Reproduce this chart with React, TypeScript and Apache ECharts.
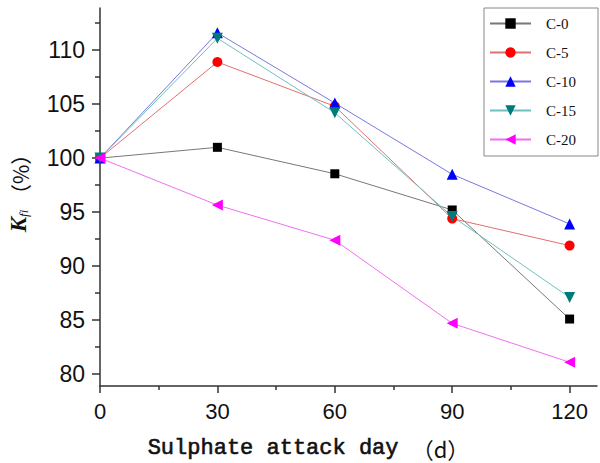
import React, { useEffect, useRef } from "react";
import * as echarts from "echarts";

const days = [0, 30, 60, 90, 120];
const c0 = [100, 101.0, 98.55, 95.2, 85.1];
const c5 = [100, 108.9, 104.8, 94.4, 91.9];
const c10 = [100, 111.6, 105.1, 98.5, 93.9];
const c15 = [100, 111.1, 104.2, 94.6, 87.1];
const c20 = [100, 95.65, 92.4, 84.7, 81.1];
const xMajor = [0, 30, 60, 90, 120];
const xMinor = [15, 45, 75, 105];
const yMajor = [80, 85, 90, 95, 100, 105, 110];
const yMinor = [82.5, 87.5, 92.5, 97.5, 102.5, 107.5, 112.5];
const names = ["C-0", "C-5", "C-10", "C-15", "C-20"];

const pairs = (ys: number[]) => days.map((d, i) => [d, ys[i]]);

export default function App() {
  const ref = useRef<HTMLDivElement>(null);
  useEffect(() => {
    const chart = echarts.init(ref.current!, null, { renderer: "svg" });
    const axisLineStyle = { color: "#333", width: 1.5 };
    const mk = (
      name: string,
      data: number[],
      symbol: string,
      size: number,
      rot: number,
      color: string,
      lineColor: string
    ) => ({
      name,
      type: "line",
      data: pairs(data),
      symbol,
      symbolSize: size,
      symbolRotate: rot,
      itemStyle: { color },
      lineStyle: { color: lineColor, width: 1 },
      xAxisIndex: 0,
      yAxisIndex: 0,
    });
    chart.setOption({
      animation: false,
      backgroundColor: "#fff",
      grid: { left: 100, right: 3, top: 8, bottom: 77, containLabel: false, outerBoundsMode: "none" },
      legend: {
        orient: "vertical",
        left: 484,
        top: 8,
        padding: [8, 22, 9, 5],
        itemWidth: 41,
        itemHeight: 13,
        itemGap: 14,
        borderColor: "#888",
        borderWidth: 1,
        textStyle: { fontFamily: "Liberation Serif", fontSize: 15, color: "#111", padding: [0, 0, 0, 10] },
        data: names,
      },
      xAxis: [
        {
          type: "value",
          min: 0,
          max: 127,
          axisLine: { show: true, lineStyle: axisLineStyle },
          axisTick: { show: true, length: 7, lineStyle: axisLineStyle, customValues: xMajor },
          axisLabel: {
            customValues: xMajor,
            fontFamily: "Liberation Sans",
            fontSize: 22,
            color: "#111",
            margin: 14,
          },
          splitLine: { show: false },
          name: "{a|Sulphate attack day }{b|（d）}",
          nameLocation: "middle",
          nameGap: 51,
          nameTextStyle: {
            padding: [0, 80, 0, 0],
            rich: {
              a: { fontFamily: "Liberation Mono", fontSize: 22, color: "#111", textBorderColor: "#111", textBorderWidth: 0.6 },
              b: { fontFamily: "Noto Sans CJK SC", fontSize: 22, color: "#111" },
            },
          },
        },
        {
          type: "value",
          min: 0,
          max: 127,
          position: "bottom",
          axisLine: { show: false },
          axisTick: { show: true, length: 4, lineStyle: axisLineStyle, customValues: xMinor },
          axisLabel: { show: false },
          splitLine: { show: false },
        },
      ],
      yAxis: [
        {
          type: "value",
          min: 78.9,
          max: 113.9,
          axisLine: { show: true, lineStyle: axisLineStyle },
          axisTick: { show: true, length: 8, lineStyle: axisLineStyle, customValues: yMajor },
          axisLabel: {
            customValues: yMajor,
            margin: 8,
            formatter: (v: number) => "{v|" + v + "}",
            rich: {
              v: { fontFamily: "Liberation Sans", fontSize: 23, color: "#111", padding: [0, 7, 0, 0] },
            },
          },
          splitLine: { show: false },
          name: "{k|K}{s|fi}{p| （%）}",
          nameLocation: "middle",
          nameGap: 70,
          nameTextStyle: {
            padding: [0, 0, 0, 18],
            rich: {
              k: { fontFamily: "Liberation Serif", fontStyle: "italic", fontWeight: "bold", fontSize: 23, color: "#111", verticalAlign: "bottom", lineHeight: 24 },
              s: { fontFamily: "Liberation Serif", fontStyle: "italic", fontSize: 13, color: "#111", verticalAlign: "bottom", lineHeight: 20 },
              p: { fontFamily: "Noto Sans CJK SC", fontSize: 21, color: "#111", verticalAlign: "bottom", lineHeight: 24 },
            },
          },
        },
        {
          type: "value",
          min: 78.9,
          max: 113.9,
          position: "left",
          axisLine: { show: false },
          axisTick: { show: true, length: 5, lineStyle: axisLineStyle, customValues: yMinor },
          axisLabel: { show: false },
          splitLine: { show: false },
        },
      ],
      series: [
        mk("C-0", c0, "rect", 9, 0, "#000", "#777"),
        mk("C-5", c5, "circle", 10, 0, "#f00", "#e07070"),
        mk("C-10", c10, "triangle", 11, 0, "#0000ff", "#7878e0"),
        mk("C-15", c15, "triangle", 11, 180, "#007b7b", "#70c0c0"),
        mk("C-20", c20, "triangle", 11, 90, "#ff00ff", "#f070f0"),
      ],
    });
    return () => chart.dispose();
  }, []);
  return <div ref={ref} style={{ width: 600, height: 463, position: "absolute", left: 0, top: 0 }} />;
}
